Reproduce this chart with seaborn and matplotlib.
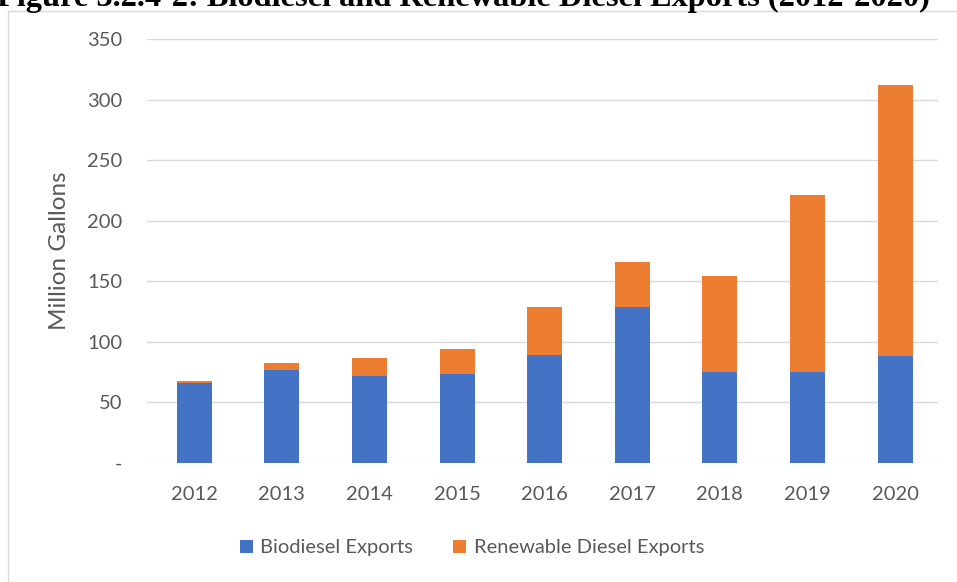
import matplotlib
matplotlib.use("Agg")
import matplotlib.pyplot as plt
import seaborn as sns
import pandas as pd
from matplotlib.patches import Rectangle, Patch

years = ["2012", "2013", "2014", "2015", "2016", "2017", "2018", "2019", "2020"]
biodiesel = [66, 77, 72, 73.5, 89, 128.5, 75, 75.5, 88]
renewable = [2, 5.5, 14.5, 21, 39.5, 37.5, 79, 146, 224]
yticks = [0, 50, 100, 150, 200, 250, 300, 350]
ytick_labels = ["-", "50", "100", "150", "200", "250", "300", "350"]
series_names = ["Biodiesel Exports", "Renewable Diesel Exports"]
title = "Figure 3.2.4-2: Biodiesel and Renewable Diesel Exports (2012-2020)"

df = pd.DataFrame({"Year": years, "Biodiesel": biodiesel, "Renewable": renewable})
df["Total"] = df["Biodiesel"] + df["Renewable"]

sns.set_theme(style="white")
plt.rcParams["font.family"] = ["Lato", "DejaVu Sans"]

BLUE = "#4472C4"
ORANGE = "#ED7D31"
GRAY_TXT = "#595959"

fig = plt.figure(figsize=(9.57, 5.82), dpi=100)
ax = fig.add_axes([147/957, 1 - 463/582, (938 - 147)/957, (463 - 39)/582])

sns.barplot(data=df, x="Year", y="Total", color=ORANGE, saturation=1, width=0.40,
            ax=ax, zorder=3, linewidth=0)
sns.barplot(data=df, x="Year", y="Biodiesel", color=BLUE, saturation=1, width=0.40,
            ax=ax, zorder=3, linewidth=0)

ax.set_ylim(0, 350)
ax.set_xlim(-0.54, 8.49)
ax.set_yticks(yticks)
ax.set_yticklabels(ytick_labels)
ax.yaxis.grid(True, color="#d9d9d9", linewidth=1.0, zorder=0)
ax.set_axisbelow(True)
for s in ax.spines.values():
    s.set_visible(False)
ax.tick_params(axis="both", length=0, labelsize=14.5, labelcolor=GRAY_TXT)
ax.tick_params(axis="y", pad=18)
ax.tick_params(axis="x", pad=16.5)
ax.set_xlabel("")
ax.set_ylabel("Million Gallons", fontsize=17.5, color=GRAY_TXT, labelpad=12)

handles = [Patch(facecolor=BLUE, edgecolor="none"), Patch(facecolor=ORANGE, edgecolor="none")]
fig.legend(handles, series_names, loc="center", bbox_to_anchor=(472/957, 1 - 548/582),
           ncol=2, frameon=False, fontsize=14.5, handlelength=0.65, handleheight=0.65,
           handletextpad=0.35, columnspacing=2.0, labelcolor=GRAY_TXT)

# chart area border
fig.patches.append(Rectangle((8/957, -0.01), 1.0, 1 - 11/582 + 0.01, transform=fig.transFigure,
                             fill=False, edgecolor="#d9d9d9", linewidth=1.0))

fig.text(463/957, 1 - 6/582, title, ha="center", va="baseline", fontsize=23.3,
         fontweight="bold", family="Liberation Serif", color="black")

fig.savefig("out.png", dpi=100)
